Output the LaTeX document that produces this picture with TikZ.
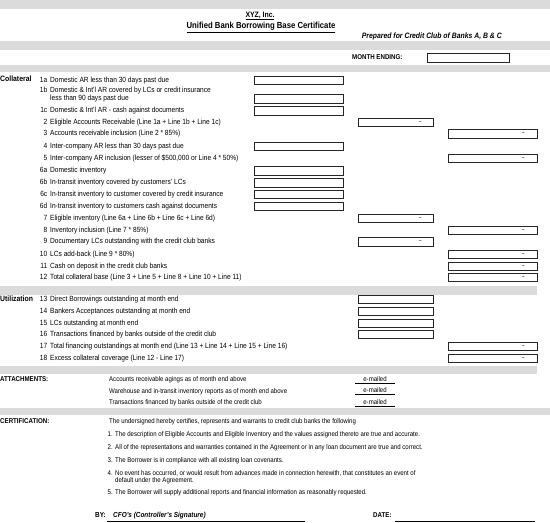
\documentclass[tikz,border=0pt]{standalone}
\usepackage{fontspec}
\setmainfont[FakeStretch=0.88]{Liberation Sans}
\begin{document}
\begin{tikzpicture}[x=1pt,y=-1pt,
 txt/.style={anchor=west,inner sep=0pt,font=\fontsize{7.5}{8}\selectfont,text height=5pt,text depth=1.4pt},
 numl/.style={anchor=east,inner sep=0pt,font=\fontsize{7.5}{8}\selectfont,text height=5pt,text depth=1.4pt},
 head/.style={anchor=west,inner sep=0pt,font=\fontsize{7}{8}\selectfont\bfseries,text height=5pt,text depth=1.4pt},
 sect/.style={anchor=west,inner sep=0pt,font=\fontsize{7.8}{9}\selectfont\bfseries,text height=5pt,text depth=1.4pt},
 small/.style={anchor=west,inner sep=0pt,font=\fontsize{6.9}{7.5}\selectfont,text height=5pt,text depth=1.4pt},
 smalln/.style={anchor=east,inner sep=0pt,font=\fontsize{6.9}{7.5}\selectfont,text height=5pt,text depth=1.4pt},
 fbox/.style={draw=black!85,line width=0.7pt,fill=white,inner sep=0pt,minimum height=8.5pt},
 boxL/.style={fbox,minimum width=89pt},
 boxM/.style={fbox,minimum width=75pt},
 boxR/.style={fbox,minimum width=89pt},
 dmark/.style={inner sep=0pt,font=\fontsize{5}{6}\selectfont\bfseries},
 band/.style={fill=black!14,draw=none},
 sigline/.style={draw=black,line width=0.6pt}
]
\useasboundingbox (0,0) rectangle (550,523);
\fill[white] (0,0) rectangle (550,523);
% bands
\fill[band] (0,0) rectangle (550,9);
\fill[band] (0,41) rectangle (550,50);
\fill[band] (0,65) rectangle (550,72);
\fill[band] (0,286) rectangle (537,295);
\fill[band] (0,365.5) rectangle (537,373.5);
\fill[band] (0,408) rectangle (550,415);

% title
\node[inner sep=0pt,font=\fontsize{7.8}{9}\selectfont\bfseries] (t1) at (260,16) {\underline{XYZ, Inc.}};
\node[inner sep=0pt,font=\fontsize{8.8}{10}\selectfont\bfseries] (t2) at (261,27.5) {\underline{Unified Bank Borrowing Base Certificate}};
\node[anchor=east,inner sep=0pt,font=\fontsize{7.8}{9}\selectfont\bfseries\itshape] (t3) at (502,36.5) {Prepared for Credit Club of Banks A, B \& C};

% month ending
\node[head] (me) at (352,57.5) {MONTH ENDING:};
\node[fbox,minimum width=82pt,minimum height=9pt] (mebox) at (468,57.5) {};

% collateral
\node[sect] (coll) at (0,79.5) {Collateral};

\node[numl] (n1a) at (47.5,80.5) {1a};
\node[txt] (r1a) at (50,80.5) {Domestic AR less than 30 days past due};
\node[boxL] (b1a) at (298.5,80.5) {};

\node[numl] (n1b) at (47.5,91) {1b};
\node[txt] (r1b) at (50,91) {Domestic \& Int'l AR covered by LCs or credit insurance};
\node[txt] (r1b2) at (50,99) {less than 90 days past due};
\node[boxL] (b1b) at (298.5,99) {};

\node[numl] (n1c) at (47.5,111) {1c};
\node[txt] (r1c) at (50,111) {Domestic \& Int'l AR - cash against documents};
\node[boxL] (b1c) at (298.5,111) {};

\node[numl] (n2) at (47.5,122.5) {2};
\node[txt] (r2) at (50,122.5) {Eligible Accounts Receivable (Line 1a + Line 1b + Line 1c)};
\node[boxM] (b2) at (395.5,122.5) {};
\node[dmark] at ([xshift=-13pt]b2.east) {--};

\node[numl] (n3) at (47.5,134) {3};
\node[txt] (r3) at (50,134) {Accounts receivable inclusion (Line 2 * 85\%)};
\node[boxR] (b3) at (492.5,134) {};
\node[dmark] at ([xshift=-14pt]b3.east) {--};

\node[numl] (n4) at (47.5,146.5) {4};
\node[txt] (r4) at (50,146.5) {Inter-company AR less than 30 days past due};
\node[boxL] (b4) at (298.5,146.5) {};

\node[numl] (n5) at (47.5,158.5) {5};
\node[txt] (r5) at (50,158.5) {Inter-company AR inclusion (lesser of \$500,000 or Line 4 * 50\%)};
\node[boxR] (b5) at (492.5,158.5) {};
\node[dmark] at ([xshift=-14pt]b5.east) {--};

\node[numl] (n6a) at (47.5,171) {6a};
\node[txt] (r6a) at (50,171) {Domestic inventory};
\node[boxL] (b6a) at (298.5,171) {};

\node[numl] (n6b) at (47.5,183) {6b};
\node[txt] (r6b) at (50,183) {In-transit inventory covered by customers' LCs};
\node[boxL] (b6b) at (298.5,183) {};

\node[numl] (n6c) at (47.5,194.5) {6c};
\node[txt] (r6c) at (50,194.5) {In-transit inventory to customer covered by credit insurance};
\node[boxL] (b6c) at (298.5,194.5) {};

\node[numl] (n6d) at (47.5,206.5) {6d};
\node[txt] (r6d) at (50,206.5) {In-transit inventory to customers cash against documents};
\node[boxL] (b6d) at (298.5,206.5) {};

\node[numl] (n7) at (47.5,218.5) {7};
\node[txt] (r7) at (50,218.5) {Eligible inventory (Line 6a + Line 6b + Line 6c + Line 6d)};
\node[boxM] (b7) at (395.5,218.5) {};
\node[dmark] at ([xshift=-13pt]b7.east) {--};

\node[numl] (n8) at (47.5,230.5) {8};
\node[txt] (r8) at (50,230.5) {Inventory inclusion (Line 7 * 85\%)};
\node[boxR] (b8) at (492.5,230.5) {};
\node[dmark] at ([xshift=-14pt]b8.east) {--};

\node[numl] (n9) at (47.5,242) {9};
\node[txt] (r9) at (50,242) {Documentary LCs outstanding with the credit club banks};
\node[boxM] (b9) at (395.5,242) {};
\node[dmark] at ([xshift=-13pt]b9.east) {--};

\node[numl] (n10) at (47.5,254.5) {10};
\node[txt] (r10) at (50,254.5) {LCs add-back (Line 9 * 80\%)};
\node[boxR] (b10) at (492.5,254.5) {};
\node[dmark] at ([xshift=-14pt]b10.east) {--};

\node[numl] (n11) at (47.5,266.5) {11};
\node[txt] (r11) at (50,266.5) {Cash on deposit in the credit club banks};
\node[boxR] (b11) at (492.5,266.5) {};
\node[dmark] at ([xshift=-14pt]b11.east) {--};

\node[numl] (n12) at (47.5,277.5) {12};
\node[txt] (r12) at (50,277.5) {Total collateral base (Line 3 + Line 5 + Line 8 + Line 10 + Line 11)};
\node[boxR] (b12) at (492.5,277.5) {};
\node[dmark] at ([xshift=-14pt]b12.east) {--};

% utilization
\node[sect] (util) at (0,299.5) {Utilization};

\node[numl] (n13) at (47.5,299.5) {13};
\node[txt] (r13) at (50,299.5) {Direct Borrowings outstanding at month end};
\node[boxM] (b13) at (395.5,299.5) {};

\node[numl] (n14) at (47.5,311.5) {14};
\node[txt] (r14) at (50,311.5) {Bankers Acceptances outstanding at month end};
\node[boxM] (b14) at (395.5,311.5) {};

\node[numl] (n15) at (47.5,323.5) {15};
\node[txt] (r15) at (50,323.5) {LCs outstanding at month end};
\node[boxM] (b15) at (395.5,323.5) {};

\node[numl] (n16) at (47.5,334.5) {16};
\node[txt] (r16) at (50,334.5) {Transactions financed by banks outside of the credit club};
\node[boxM] (b16) at (395.5,334.5) {};

\node[numl] (n17) at (47.5,346.5) {17};
\node[txt] (r17) at (50,346.5) {Total financing outstandings at month end (Line 13 + Line 14 + Line 15 + Line 16)};
\node[boxR] (b17) at (492.5,346.5) {};
\node[dmark] at ([xshift=-14pt]b17.east) {--};

\node[numl] (n18) at (47.5,358.5) {18};
\node[txt] (r18) at (50,358.5) {Excess collateral coverage (Line 12 - Line 17)};
\node[boxR] (b18) at (492.5,358.5) {};
\node[dmark] at ([xshift=-14pt]b18.east) {--};

% attachments
\node[head] (att) at (0,380) {ATTACHMENTS:};
\node[small] (a1) at (109,380) {Accounts receivable agings as of month end above};
\node[small] (a2) at (109,391.5) {Warehouse and in-transit inventory reports as of month end above};
\node[small] (a3) at (109,403) {Transactions financed by banks outside of the credit club};
\node[inner sep=0pt,font=\fontsize{6.9}{7.5}\selectfont] (e1) at (375,380) {\underline{\makebox[40pt]{e-mailed}}};
\node[inner sep=0pt,font=\fontsize{6.9}{7.5}\selectfont] (e2) at (375,391.5) {\underline{\makebox[40pt]{e-mailed}}};
\node[inner sep=0pt,font=\fontsize{6.9}{7.5}\selectfont] (e3) at (375,403) {\underline{\makebox[40pt]{e-mailed}}};

% certification
\node[head] (cert) at (0,421.5) {CERTIFICATION:};
\node[small] (c0) at (109,421.5) {The undersigned hereby certifies, represents and warrants to credit club banks the following};
\node[smalln] (cn1) at (113,434.5) {1.};
\node[small] (c1) at (115,434.5) {The description of Eligible Accounts and Eligible Inventory and the values assigned thereto are true and accurate.};
\node[smalln] (cn2) at (113,447.5) {2.};
\node[small] (c2) at (115,447.5) {All of the representations and warranties contained in the Agreement or in any loan document are true and correct.};
\node[smalln] (cn3) at (113,461) {3.};
\node[small] (c3) at (115,461) {The Borrower is in compliance with all existing loan covenants.};
\node[smalln] (cn4) at (113,474) {4.};
\node[small] (c4) at (115,474) {No event has occurred, or would result from advances made in connection herewith, that constitutes an event of};
\node[small] (c4b) at (115,480.5) {default under the Agreement.};
\node[smalln] (cn5) at (113,493) {5.};
\node[small] (c5) at (115,493) {The Borrower will supply additional reports and financial information as reasonably requested.};

% signature
\node[anchor=east,inner sep=0pt,font=\fontsize{7.3}{8}\selectfont\bfseries,text height=5pt,text depth=1.4pt] (by) at (106,515.5) {BY:};
\node[anchor=west,inner sep=0pt,font=\fontsize{7.3}{8}\selectfont\bfseries\itshape,text height=5pt,text depth=1.4pt] (cfo) at (113,515.5) {CFO's (Controller's Signature)};
\coordinate (s1a) at (107,521);
\coordinate (s1b) at (305,521);
\draw[sigline] (s1a) -- (s1b);
\node[head] (date) at (373,516) {DATE:};
\coordinate (s2a) at (395,521);
\coordinate (s2b) at (535,521);
\draw[sigline] (s2a) -- (s2b);
\end{tikzpicture}
\end{document}
